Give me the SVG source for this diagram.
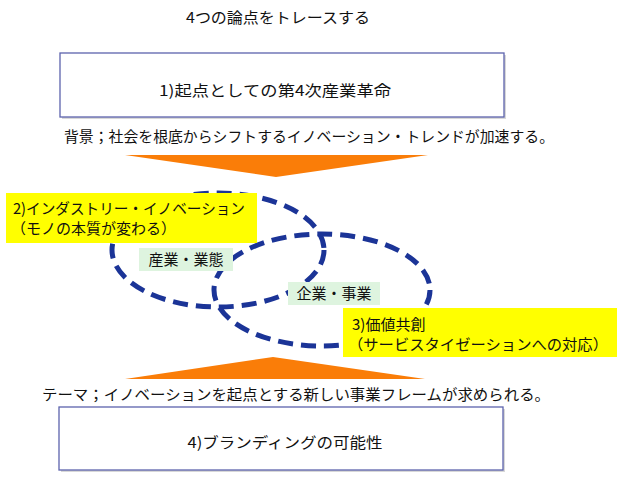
<svg xmlns="http://www.w3.org/2000/svg" width="622" height="478" viewBox="0 0 622 478">
<style>
text{font-family:"Noto Sans CJK JP","Noto Sans",sans-serif;fill:#111;font-size:15px}
.box{fill:#fff;stroke:#5c63ad;stroke-width:1.3}
.shadow{fill:#d8d8d8}
.yel{fill:#ffff00}
.grn{fill:#def4df}
.ell{fill:none;stroke:#1b3497;stroke-width:5;stroke-dasharray:15 8}
.arr{fill:#fa7d08}
</style>
<rect width="622" height="478" fill="#fff"/>
<g id="title"><text x="278" y="23" text-anchor="middle" textLength="184" lengthAdjust="spacingAndGlyphs">4つの論点をトレースする</text></g>
<g id="node1">
<rect class="shadow" x="62" y="55" width="444" height="64"/>
<rect class="box" x="60" y="53" width="444" height="64"/>
<text x="275" y="96" text-anchor="middle" font-size="16" textLength="232" lengthAdjust="spacingAndGlyphs">1)起点としての第4次産業革命</text>
</g>
<g id="bg-text"><text x="64" y="142" textLength="490" lengthAdjust="spacingAndGlyphs">背景；社会を根底からシフトするイノベーション・トレンドが加速する。</text></g>
<g id="connectors">
<polygon class="arr" points="125,155 428,155 276,177"/>
<polygon class="arr" points="125,379 425,379 273,357"/>
<ellipse class="ell" cx="218" cy="250" rx="106" ry="57"/>
<ellipse class="ell" cx="322" cy="290" rx="108" ry="56"/>
</g>
<g id="node2">
<rect class="yel" x="6" y="193" width="251" height="50"/>
<text x="13" y="214" textLength="232" lengthAdjust="spacingAndGlyphs">2)インダストリー・イノベーション</text>
<text x="11" y="234">（モノの本質が変わる）</text>
</g>
<g id="label-sangyo">
<rect class="grn" x="139" y="248" width="94" height="23"/>
<text x="186" y="265" text-anchor="middle">産業・業態</text>
</g>
<g id="label-kigyo">
<rect class="grn" x="288" y="282" width="92" height="23"/>
<text x="334" y="299" text-anchor="middle">企業・事業</text>
</g>
<g id="node3">
<rect class="yel" x="343" y="308" width="274" height="49"/>
<text x="352" y="330">3)価値共創</text>
<text x="348" y="350" textLength="260" lengthAdjust="spacingAndGlyphs">（サービスタイゼーションへの対応）</text>
</g>
<g id="theme-text"><text x="42" y="400" textLength="508" lengthAdjust="spacingAndGlyphs">テーマ；イノベーションを起点とする新しい事業フレームが求められる。</text></g>
<g id="node4">
<rect class="shadow" x="61" y="409" width="444" height="63"/>
<rect class="box" x="59" y="407" width="444" height="63"/>
<text x="285" y="448" text-anchor="middle" font-size="16" textLength="195" lengthAdjust="spacingAndGlyphs">4)ブランディングの可能性</text>
</g>
</svg>
